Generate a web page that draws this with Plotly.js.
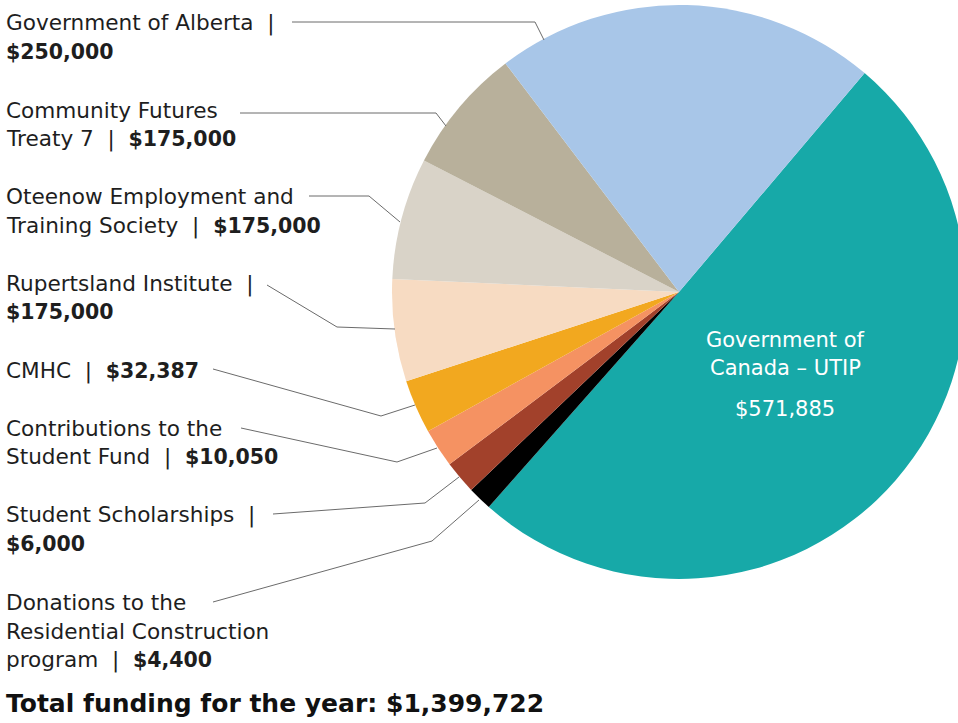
<!DOCTYPE html>
<html>
<head>
<meta charset="utf-8">
<script src="https://cdn.plot.ly/plotly-3.0.1.min.js"></script>
<style>
  html, body { margin: 0; padding: 0; overflow: hidden; background: #ffffff; }
  #chart { width: 1000px; height: 723px; }
</style>
</head>
<body>
<div id="chart"></div>
<script>
// ---- data (slice order: clockwise from the teal slice) ----
const sliceNames = [
  'Government of Canada – UTIP',
  'Donations to the Residential Construction program',
  'Student Scholarships',
  'Contributions to the Student Fund',
  'CMHC',
  'Rupertsland Institute',
  'Oteenow Employment and Training Society',
  'Community Futures Treaty 7',
  'Government of Alberta'
];
const amounts = [571885, 4400, 6000, 10050, 32387, 175000, 175000, 175000, 250000];
// slice shares (%) as drawn in the picture
const sliceShares = [50.33, 1.36, 1.86, 2.19, 3.03, 5.75, 6.86, 7.08, 21.53];
const sliceColors = ['#17a9a8', '#000000', '#a2412b', '#f59262', '#f2a81f', '#f7dbc2', '#d9d3c8', '#b8b09b', '#a8c6e8'];
const totalFunding = 1399722;

// label text lines for the left-hand callouts: [plain part, bold part]
const fmt = v => '$' + v.toLocaleString('en-US');
const calloutLines = [
  ['Government of Alberta  |', ''],
  ['', fmt(amounts[8])],
  ['Community Futures', ''],
  ['Treaty 7  |  ', fmt(amounts[7])],
  ['Oteenow Employment and', ''],
  ['Training Society  |  ', fmt(amounts[6])],
  ['Rupertsland Institute  |', ''],
  ['', fmt(amounts[5])],
  ['CMHC  |  ', fmt(amounts[4])],
  ['Contributions to the', ''],
  ['Student Fund  |  ', fmt(amounts[3])],
  ['Student Scholarships  |', ''],
  ['', fmt(amounts[2])],
  ['Donations to the', ''],
  ['Residential Construction', ''],
  ['program  |  ', fmt(amounts[1])]
];
const calloutY = [23, 52, 110, 139, 197, 226, 284, 312, 371, 428, 457, 515, 544, 602, 631, 660];

// leader line polylines (pixel positions)
const leaders = [
  [[292, 22], [535, 22], [544, 40]],
  [[240, 113], [436, 113], [446, 126]],
  [[309, 196], [369, 196], [400, 222]],
  [[267, 285], [337, 327], [395, 329]],
  [[213, 369], [381, 416], [415, 405]],
  [[241, 428], [397, 462], [437, 448]],
  [[273, 514], [425, 503], [459, 477]],
  [[213, 602], [432, 541], [479, 500]]
];

const W = 1000, H = 723;
const px = x => x / W;
const py = y => 1 - y / H;

const FONT = 'DejaVu Sans, sans-serif';
const annotations = [];
calloutLines.forEach((ln, i) => {
  let t = ln[0];
  if (ln[1]) t += '<span style="font-weight:bold;font-size:20.5px">' + ln[1] + '</span>';
  annotations.push({
    xref: 'paper', yref: 'paper', x: px(4), y: py(calloutY[i]),
    xanchor: 'left', yanchor: 'middle', showarrow: false, align: 'left',
    text: t, font: { family: FONT, size: 21.6, color: '#1e1e1e' }
  });
});
// inside label of the big slice
const insideLines = ['Government of', 'Canada – UTIP', fmt(amounts[0])];
const insideY = [340, 368, 409];
insideLines.forEach((t, i) => {
  annotations.push({
    xref: 'paper', yref: 'paper', x: px(785), y: py(insideY[i]),
    xanchor: 'center', yanchor: 'middle', showarrow: false,
    text: t, font: { family: FONT, size: 21, color: '#ffffff' }
  });
});
annotations.push({
  xref: 'paper', yref: 'paper', x: px(4), y: py(703),
  xanchor: 'left', yanchor: 'middle', showarrow: false,
  text: '<b>Total funding for the year: ' + fmt(totalFunding) + '</b>',
  font: { family: FONT, size: 25, color: '#111111' }
});

const shapes = leaders.map(pts => ({
  type: 'path', xref: 'paper', yref: 'paper',
  path: pts.map((p, j) => (j ? 'L' : 'M') + px(p[0]) + ',' + py(p[1])).join(' '),
  line: { color: '#6b6b6b', width: 1 }
}));

const trace = {
  type: 'pie',
  labels: sliceNames,
  values: sliceShares,
  sort: false,
  direction: 'clockwise',
  rotation: 40.3,
  textinfo: 'none',
  hoverinfo: 'label',
  marker: { colors: sliceColors, line: { width: 0 } },
  domain: { x: [px(392), px(966)], y: [py(579), py(5)] }
};

Plotly.newPlot('chart', [trace], {
  width: W, height: H,
  margin: { l: 0, r: 0, t: 0, b: 0 },
  showlegend: false,
  paper_bgcolor: '#ffffff',
  annotations: annotations,
  shapes: shapes
}, { staticPlot: true });
</script>
</body>
</html>
